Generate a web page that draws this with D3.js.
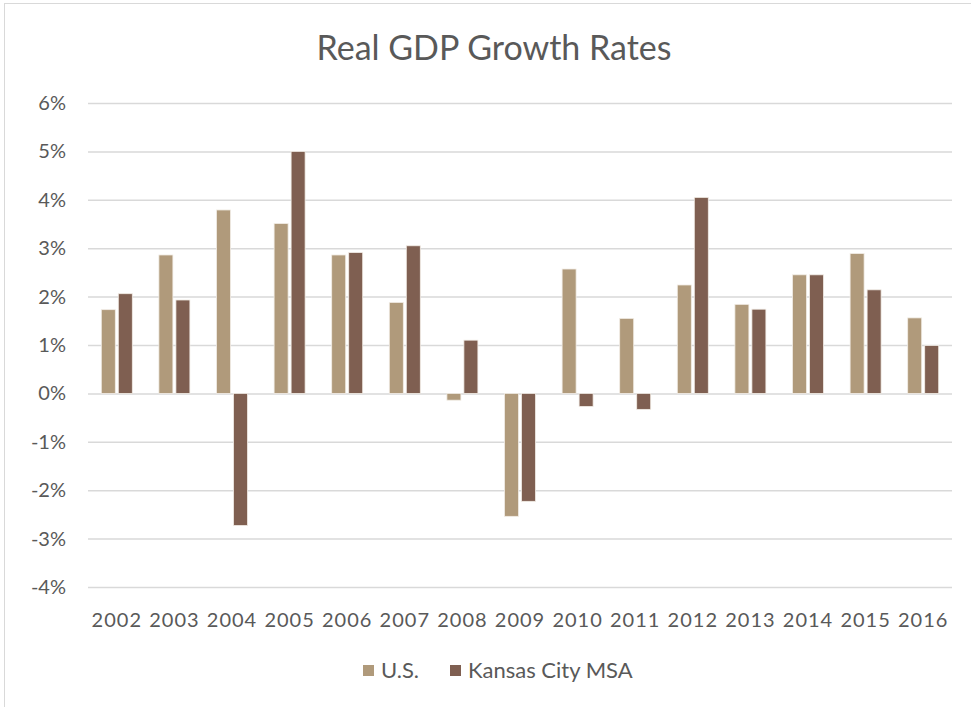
<!DOCTYPE html>
<html lang="en">
<head>
	<meta charset="utf-8">
	<title>Real GDP Growth Rates</title>
	<script src="https://d3js.org/d3.v7.min.js"></script>
	<style type="text/css">
		body { margin: 0; background: #fff; }
		text { font-family: Lato, "Open Sans", sans-serif; fill: #595959; }
	</style>
</head>
<body>
	<svg id="chart" style="width:971px; height:707px; display:block"></svg>

	<script type="text/javascript">
	// data
	var years = ["2002","2003","2004","2005","2006","2007","2008","2009","2010","2011","2012","2013","2014","2015","2016"]
	var usValues = [1.73, 2.86, 3.79, 3.51, 2.86, 1.88, -0.14, -2.54, 2.57, 1.55, 2.24, 1.84, 2.45, 2.89, 1.56]
	var kcValues = [2.06, 1.93, -2.73, 5.0, 2.91, 3.05, 1.1, -2.23, -0.27, -0.33, 4.05, 1.74, 2.45, 2.14, 0.99]
	var seriesNames = ["U.S.", "Kansas City MSA"]
	var yTicks = [-4, -3, -2, -1, 0, 1, 2, 3, 4, 5, 6]

	var colors = ["#b09a7b", "#7f5f51"]

	var svg = d3.select("#chart")

	// chart border
	svg.append("rect")
		.attr("x", 4.5).attr("y", 3.5)
		.attr("width", 990).attr("height", 720)
		.attr("fill", "none")
		.attr("stroke", "#d9d9d9")

	var plotL = 88, plotR = 952, plotT = 103, plotB = 587

	var x = d3.scaleBand().domain(years).range([plotL, plotR])
	var y = d3.scaleLinear().domain([-4, 6]).range([plotB, plotT])

	// title
	svg.append("text")
		.attr("x", 494).attr("y", 60)
		.attr("text-anchor", "middle")
		.style("font-size", "34px")
		.text("Real GDP Growth Rates")

	// gridlines + y labels
	var yAxis = d3.axisLeft(y).tickValues(yTicks).tickSize(-(plotR - plotL)).tickFormat(d => d + "%")
	var gy = svg.append("g").attr("transform", "translate(" + plotL + ",0)").call(yAxis)
	gy.select(".domain").remove()
	gy.selectAll(".tick line").attr("stroke", "#d9d9d9").attr("stroke-width", 1.5)
	gy.selectAll(".tick text")
		.attr("x", -22)
		.style("font-size", "20px")
		.style("font-family", "Lato, sans-serif")
		.attr("fill", "#595959")

	// bars
	var barW = 14, gap = 3
	var series = [usValues, kcValues]
	series.forEach(function(vals, s) {
		svg.append("g").selectAll("rect")
			.data(vals)
			.enter()
			.append("rect")
			.attr("x", (d, i) => x(years[i]) + x.bandwidth() / 2 + (s === 0 ? -barW - gap / 2 : gap / 2))
			.attr("y", d => y(Math.max(0, d)))
			.attr("width", barW)
			.attr("height", d => Math.abs(y(d) - y(0)))
			.attr("fill", colors[s])
			.attr("stroke", "#f2ede6")
			.attr("stroke-width", 0.8)
	})

	// x labels
	var xAxis = d3.axisBottom(x).tickSize(0)
	var gx = svg.append("g").attr("transform", "translate(0," + 618 + ")").call(xAxis)
	gx.select(".domain").remove()
	gx.selectAll(".tick text")
		.attr("dy", "0.3em")
		.style("font-size", "20px")
		.style("letter-spacing", "1px")
		.style("font-family", "Lato, sans-serif")
		.attr("fill", "#595959")

	// legend
	var legendX = [363, 450]
	seriesNames.forEach(function(name, s) {
		svg.append("rect")
			.attr("x", legendX[s]).attr("y", 665)
			.attr("width", 11).attr("height", 11)
			.attr("fill", colors[s])
		svg.append("text")
			.attr("x", legendX[s] + 18).attr("y", 678)
			.style("font-size", "22px")
			.text(name)
	})
	</script>
</body>
</html>
